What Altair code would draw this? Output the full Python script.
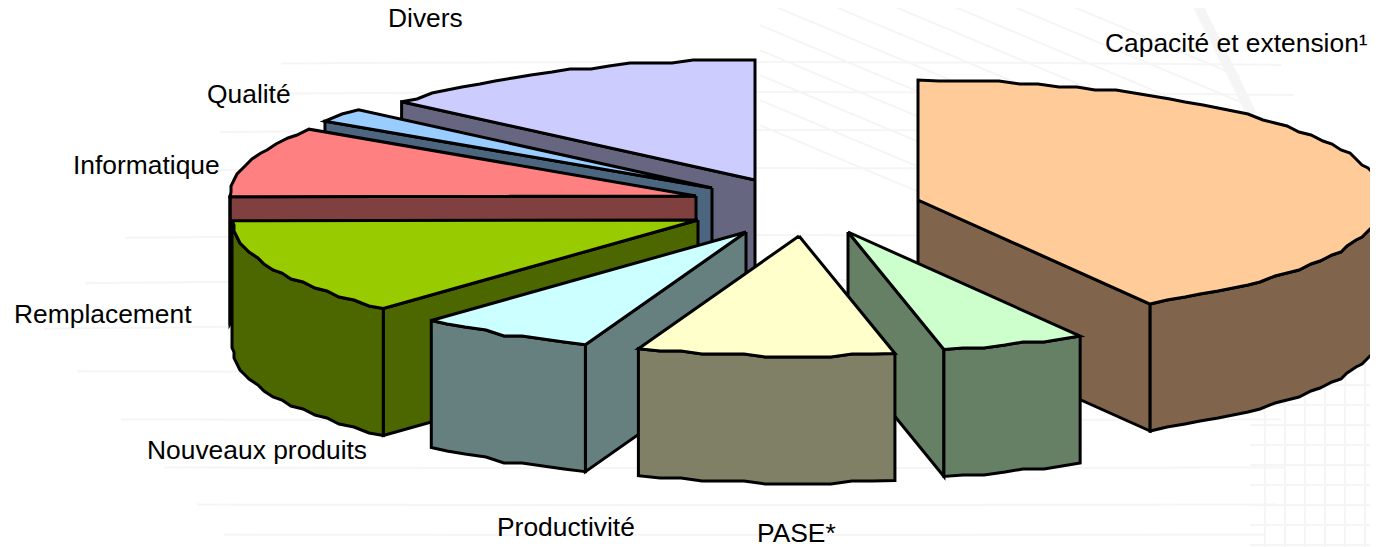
import math
import altair as alt
import pandas as pd

# --- chart values (clockwise from 12 o'clock) -------------------------------
names = ["Capacité et extension¹", "PASE*", "Productivité", "Nouveaux produits",
         "Remplacement", "Informatique", "Qualité", "Divers"]
shares = [41.7, 5.0, 8.9, 6.2, 13.1, 9.5, 1.9, 13.7]
top_colors = ["#FFCC99", "#CCFFCC", "#FFFFCC", "#CCFFFF", "#99CC00", "#FF8080", "#99CCFF", "#CCCCFF"]
side_colors = ["#80654C", "#668066", "#808066", "#668080", "#4C6600", "#804040", "#4C6680", "#666680"]

# --- layout of the exploded 3-D pie, in page pixels ---------------------------
apex_x = [918, 848, 799, 746, 698, 696, 712, 755]
apex_y = [200, 232, 236, 232, 220, 196, 188, 180]
label_x = [1105, 757, 497, 147, 14, 73, 207, 388]
label_y = [44, 534, 528, 451, 315, 166, 95, 18.5]
draw_order = [7, 6, 5, 4, 3, 0, 1, 2]
RX, RY, DEPTH = 466, 120, 127

bg_top_y = [-150, -125, -100, -75, -50, -25, 0, 25, 50, 75, 100]
bg_mid_y = [62, 92, 130, 168, 235, 280, 325, 372, 420, 468, 505, 535]
bg_grid_x = [1265, 1285, 1305, 1325, 1345, 1365]
bg_grid_y = [385, 405, 425, 445, 465, 485, 505, 525, 545]
band_x = [1195, 1215, 1235, 1252]
band_y = [0, 40, 80, 115]


def arc(cx, cy, a0, a1):
    """Rim of a slice; snapped to a coarse grid like the original low-res outline."""
    n = max(2, int(abs(a1 - a0) / 2.5))
    pts = []
    for i in range(n + 1):
        a = math.radians(a0 + (a1 - a0) * i / n)
        x = cx + RX * math.sin(a)
        y = cy - RY * math.cos(a)
        if 0 < i < n:
            x, y = round(x / 3) * 3, round(y / 3) * 3
        if not pts or pts[-1] != (x, y):
            pts.append((x, y))
    return pts


rows = []


def add(pid, pts, color):
    pts = list(pts) + [pts[0]]
    for k, (x, y) in enumerate(pts):
        rows.append(dict(pid=pid, k=k, x=x, y=y, c=color))


edges = [0]
for s in shares:
    edges.append(edges[-1] + s * 3.6)

pid = 0
for i in draw_order:
    a0, a1, cx, cy = edges[i], edges[i + 1], apex_x[i], apex_y[i]
    top = arc(cx, cy, a0, a1)
    side = side_colors[i]
    # flat cut faces turned towards the viewer
    for a, first in ((a0, True), (a1, False)):
        normal = a - 90 if first else a + 90
        if math.cos(math.radians(normal)) < -1e-6:
            p = top[0] if first else top[-1]
            add(pid, [(cx, cy), p, (p[0], p[1] + DEPTH), (cx, cy + DEPTH)], side)
            pid += 1
    # rounded outer wall
    lo, hi = max(a0, 90), min(a1, 270)
    if lo < hi:
        rim = arc(cx, cy, lo, hi)
        add(pid, rim + [(x, y + DEPTH) for x, y in reversed(rim)], side)
        pid += 1
    add(pid, [(cx, cy)] + top, top_colors[i])
    pid += 1

polys = pd.DataFrame(rows)

bg = []
bid = 0
for y0 in bg_top_y:
    bg += [dict(b=bid, k=k, x=x, y=y0 + 0.42 * (x - 700)) for k, x in enumerate(range(760, 1260, 40))]
    bid += 1
for y0 in bg_mid_y:
    start = 40 + abs(y0 - 330) * 0.9
    bg += [dict(b=bid, k=k, x=x, y=y0 + (x - 700) ** 2 / 70000 * (1 if y0 < 330 else -0.2) * 0.6)
           for k, x in enumerate(range(int(start), 1300, 40))]
    bid += 1
for gx in bg_grid_x:
    bg += [dict(b=bid, k=0, x=gx, y=345), dict(b=bid, k=1, x=gx, y=547)]
    bid += 1
for gy in bg_grid_y:
    bg += [dict(b=bid, k=0, x=1250, y=gy), dict(b=bid, k=1, x=1378, y=gy)]
    bid += 1
bgdf = pd.DataFrame(bg)
banddf = pd.DataFrame({"x": band_x, "y": band_y})

labels = pd.DataFrame({"t": names, "x": label_x, "y": label_y})

X = alt.Scale(domain=[8, 1370], range=[0, 1362])
Y = alt.Scale(domain=[8, 547], range=[0, 539])
xe = alt.X("x:Q", scale=X, axis=None)
ye = alt.Y("y:Q", scale=Y, axis=None)

back = alt.Chart(bgdf).mark_line(stroke="#F5F5F5", strokeWidth=2, clip=True).encode(
    x=xe, y=ye, detail="b:N", order="k:Q")
band = alt.Chart(banddf).mark_line(stroke="#F5F5F5", strokeWidth=10, clip=True).encode(x=xe, y=ye)
shape = alt.Chart(polys).mark_line(stroke="black", strokeWidth=3, strokeJoin="miter", clip=True).encode(
    x=xe, y=ye, detail="pid:N", order="k:Q",
    fill=alt.Fill("c:N", scale=None))
text = alt.Chart(labels).mark_text(align="left", baseline="middle", font="Liberation Sans",
                                   fontSize=26.4, color="#000000").encode(x=xe, y=ye, text="t:N")

chart = (back + band + shape + text).properties(
    width=1362, height=539, padding=0, background="white",
    autosize=alt.AutoSizeParams(type="none")
).configure_view(stroke=None)

chart.save("out.html", embed_options={"renderer": "svg", "actions": False})
